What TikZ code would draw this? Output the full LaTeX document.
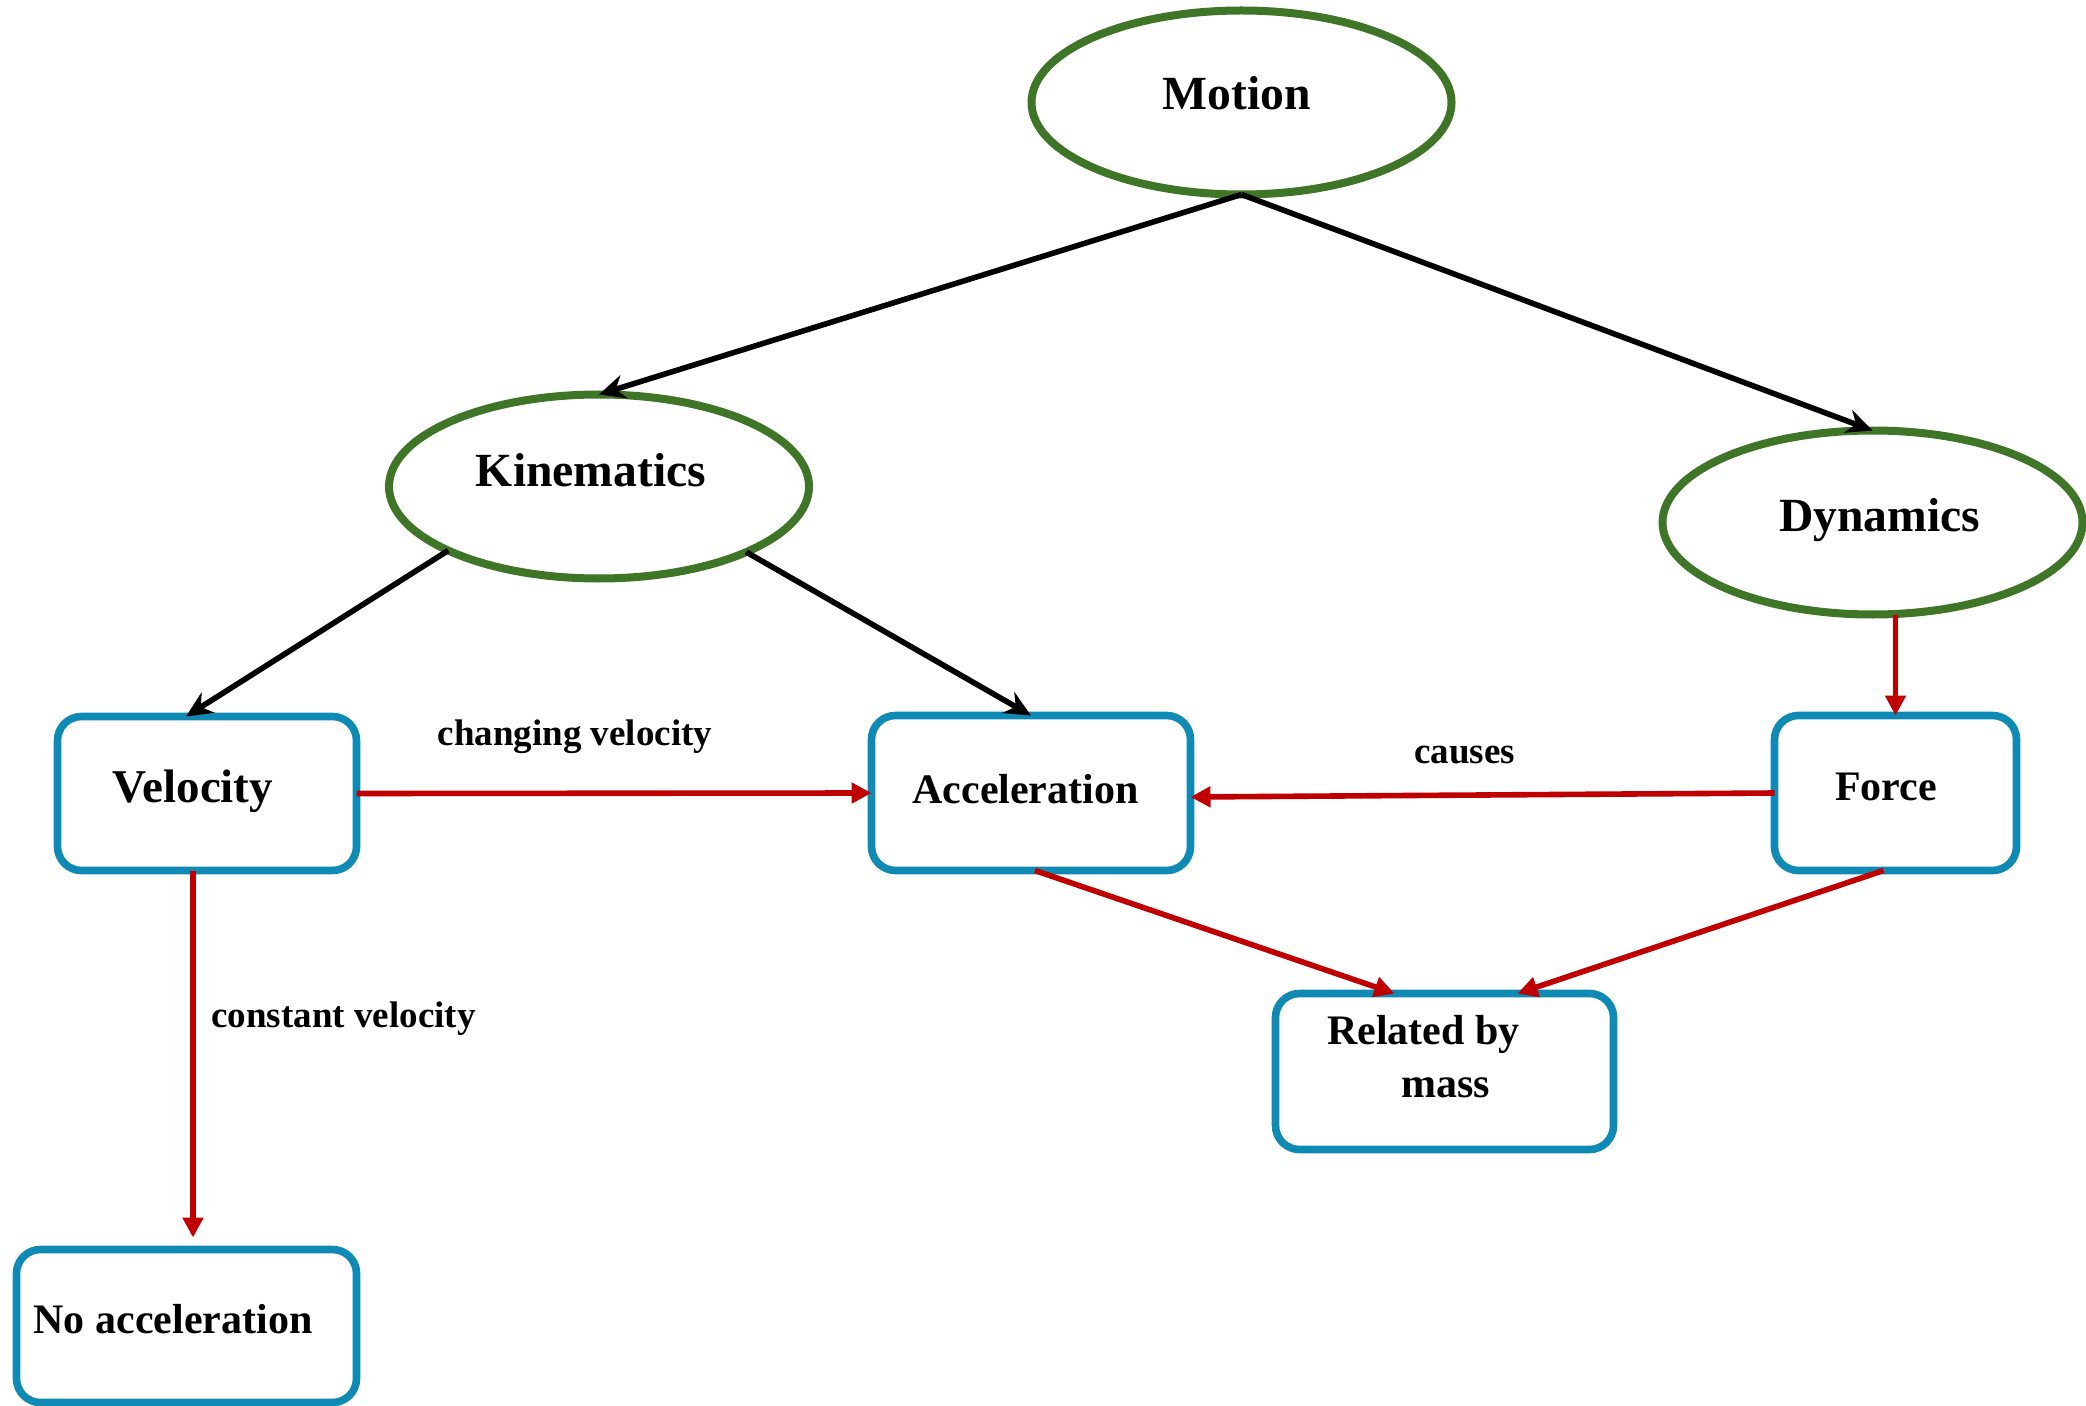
\documentclass[tikz,border=0pt]{standalone}
\usepackage{fontspec}
\setmainfont{Liberation Serif}
\usetikzlibrary{shapes.geometric,arrows.meta,calc}
\definecolor{ellgreen}{RGB}{62,117,39}
\definecolor{boxblue}{RGB}{14,138,181}
\definecolor{arrred}{RGB}{192,0,0}
\tikzset{
  ell/.style={ellipse,draw=ellgreen,line width=4pt,inner sep=0pt,outer sep=0pt,minimum width=210pt,minimum height=92pt},
  rbox/.style={rectangle,draw=boxblue,line width=3.8pt,rounded corners=12pt,inner sep=0pt,outer sep=0pt},
  bigtxt/.style={anchor=base,inner sep=0pt,font=\fontsize{23.8}{28}\selectfont\bfseries},
  boxtxt/.style={anchor=base,inner sep=0pt,font=\fontsize{21}{25}\selectfont\bfseries},
  lbltxt/.style={anchor=base,inner sep=0pt,font=\fontsize{18.5}{22}\selectfont\bfseries},
  blackarr/.style={draw=black,line width=2.8pt,-{Stealth[length=13pt,width=12pt]}},
  redarr/.style={draw=arrred,line width=2.8pt,-{Triangle[length=10pt,width=10pt]}}
}
\begin{document}
\begin{tikzpicture}[x=0.5pt,y=-0.5pt]
\useasboundingbox (0,0) rectangle (2086,1406);
% ellipses
\node[ell] (motion) at (1241.5,102.5) {};
\node[ell] (kin) at (599,486.5) {};
\node[ell] (dyn) at (1872.5,522.5) {};
% boxes
\node[rbox,minimum width=149.5pt,minimum height=77pt] (vel) at (207,793.5) {};
\node[rbox,minimum width=159.5pt,minimum height=77.5pt] (acc) at (1031,793) {};
\node[rbox,minimum width=121pt,minimum height=77.5pt] (force) at (1895.5,793) {};
\node[rbox,minimum width=169pt,minimum height=78pt] (rel) at (1444.5,1071.5) {};
\node[rbox,minimum width=170pt,minimum height=76.5pt] (noacc) at (186.5,1326) {};
% texts
\node[bigtxt] (tmotion) at (1236.5,110) {Motion};
\node[bigtxt] (tkin) at (591,487) {Kinematics};
\node[bigtxt] (tdyn) at (1879.5,531) {Dynamics};
\node[boxtxt,font=\fontsize{23.5}{27}\selectfont\bfseries] (tvel) at (193,802) {Velocity};
\node[boxtxt] (tacc) at (1025.5,803) {Acceleration};
\node[boxtxt] (tforce) at (1886,800) {Force};
\node[boxtxt] (trel1) at (1423.5,1044) {Related by};
\node[boxtxt] (trel2) at (1445.5,1097) {mass};
\node[boxtxt,font=\fontsize{21}{25}\selectfont\bfseries] (tnoacc) at (173,1333) {No acceleration};
\node[lbltxt] (lchg) at (575,745) {changing velocity};
\node[lbltxt] (lconst) at (343.5,1027) {constant velocity};
\node[lbltxt] (lcause) at (1464.5,763) {causes};
% black arrows
\draw[blackarr] (motion.south) -- (kin.north);
\draw[blackarr] (motion.south) -- (dyn.north);
\draw[blackarr] (kin.203.6) -- ($(vel.north)+(-21,0)$);
\draw[blackarr] (kin.336.6) -- (acc.north);
% red arrows
\draw[redarr] (force.north |- dyn.south) -- (force.north);
\draw[redarr] (vel.east) -- (acc.west);
\draw[redarr] (force.west) -- ($(acc.east)+(0,4)$);
\coordinate (va) at ($(vel.south)+(-14,0)$);
\draw[redarr,shorten >=6pt] (va) -- (va |- noacc.north);
\draw[redarr] ($(acc.south)+(4,0)$) -- ($(rel.north)+(-50,0)$);
\draw[redarr] ($(force.south)+(-12,0)$) -- ($(rel.north)+(73,0)$);
\end{tikzpicture}
\end{document}
